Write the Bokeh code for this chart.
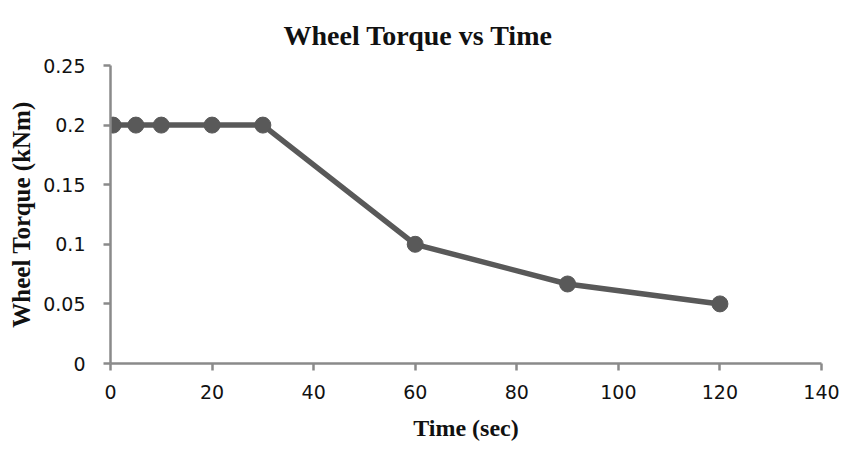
from bokeh.plotting import figure
from bokeh.models import Range1d, FixedTicker, CustomJSTickFormatter
from bokeh.embed import file_html
from bokeh.resources import INLINE

time_sec = [0.5, 5, 10, 20, 30, 60, 90, 120]
torque_knm = [0.2, 0.2, 0.2, 0.2, 0.2, 0.1, 0.0667, 0.05]
x_ticks = [0, 20, 40, 60, 80, 100, 120, 140]
y_ticks = [0, 0.05, 0.1, 0.15, 0.2, 0.25]

W, H = 843, 450
p = figure(width=W, height=H, output_backend="svg", toolbar_location=None,
           x_range=Range1d(0, 140), y_range=Range1d(0, 0.25),
           min_border_left=110, min_border_right=22, min_border_top=65, min_border_bottom=87)
p.outline_line_color = None
p.grid.visible = False
p.background_fill_color = "white"
p.border_fill_color = "white"

line_col = "#595959"
p.line(time_sec, torque_knm, line_color=line_col, line_width=5.5)
p.scatter(time_sec, torque_knm, size=16, fill_color=line_col, line_color=line_col)

axis_col = "#8a8a8a"
fmt = CustomJSTickFormatter(code="return String(parseFloat(tick.toFixed(4)));")
for ax in (p.xaxis[0], p.yaxis[0]):
    ax.axis_line_color = axis_col
    ax.axis_line_width = 2.5
    ax.major_tick_line_color = axis_col
    ax.major_tick_line_width = 2.5
    ax.major_tick_out = 7
    ax.major_tick_in = 0
    ax.minor_tick_line_color = None
    ax.major_label_text_font = "DejaVu Sans"
    ax.major_label_text_font_size = "19px"
    ax.major_label_text_color = "#111111"
    ax.axis_label_text_font = "Liberation Serif"
    ax.axis_label_text_font_style = "bold"
    ax.axis_label_text_font_size = "24px"
    ax.axis_label_text_color = "#111111"
    ax.formatter = fmt

p.xaxis[0].ticker = FixedTicker(ticks=x_ticks)
p.yaxis[0].ticker = FixedTicker(ticks=y_ticks)
p.xaxis[0].axis_label = "Time (sec)"
p.yaxis[0].axis_label = "Wheel Torque (kNm)"
p.yaxis[0].axis_label_text_font_size = "25px"
p.xaxis[0].major_label_standoff = 14
p.yaxis[0].major_label_standoff = 18
p.xaxis[0].axis_label_standoff = 13
p.yaxis[0].axis_label_standoff = 5

p.title.text = "Wheel Torque vs Time"
p.title.align = "left"
p.title.offset = 173
p.title.standoff = 30
p.title.text_font = "Liberation Serif"
p.title.text_font_style = "bold"
p.title.text_font_size = "28px"
p.title.text_color = "#111111"

open("out.html", "w").write(file_html(p, INLINE))
